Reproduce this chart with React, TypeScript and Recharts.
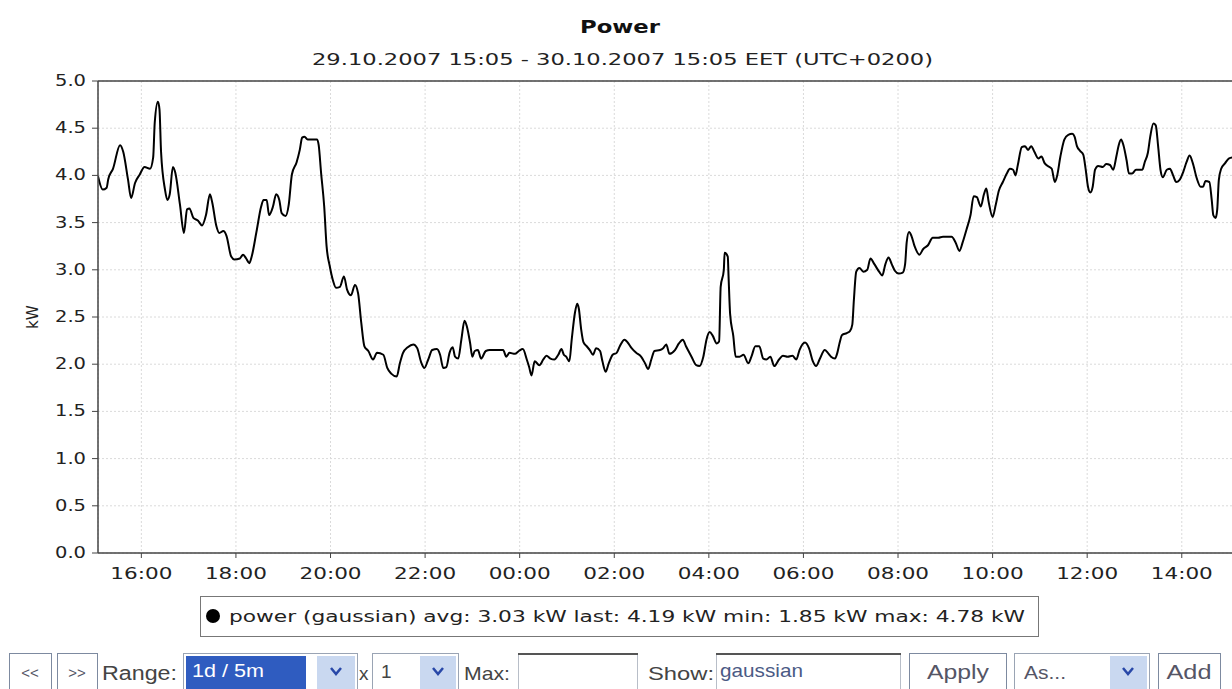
import React from 'react';
import { LineChart, Line, XAxis, YAxis, CartesianGrid, ReferenceLine } from 'recharts';

// minutes after 29.10.2007 15:05
const sampleMinutes = [
  0, 6, 11, 13, 19, 28, 32, 38, 42, 47, 53, 59, 66, 70, 72, 76, 78, 80, 85, 88, 91, 95, 98,
  104, 109, 113, 116, 121, 127, 132, 137, 142, 145, 150, 154, 159, 163, 169, 173, 180, 184,
  188, 192, 195, 201, 207, 210, 214, 217, 222, 226, 230, 233, 238, 242, 246, 252, 256, 259,
  262, 266, 278, 280, 283, 287, 290, 294, 298, 302, 307, 312, 316, 321, 326, 330, 334, 338,
  343, 349, 354, 362, 367, 372, 379, 383, 387, 393, 400, 405, 410, 414, 419, 424, 430, 434,
  438, 442, 446, 450, 453, 457, 461, 465, 468, 472, 475, 478, 482, 486, 492, 497, 514, 518,
  522, 529, 534, 539, 544, 547, 550, 554, 560, 565, 569, 574, 579, 584, 588, 591, 594, 598,
  601, 605, 608, 610, 613, 616, 620, 624, 628, 632, 637, 640, 644, 648, 653, 658, 662, 668,
  672, 677, 683, 689, 694, 698, 702, 706, 713, 717, 721, 725, 732, 737, 742, 746, 753, 759,
  763, 768, 772, 776, 780, 785, 788, 790, 794, 795, 799, 800, 802, 806, 809, 814, 819, 825,
  829, 834, 839, 844, 848, 853, 858, 864, 869, 875, 881, 886, 890, 897, 902, 907, 911, 916,
  922, 926, 930, 935, 938, 941, 944, 950, 954, 957, 959, 962, 966, 971, 976, 980, 985, 991,
  995, 999, 1003, 1007, 1011, 1016, 1021, 1024, 1026, 1029, 1032, 1036, 1042, 1047, 1053,
  1059, 1066, 1072, 1080, 1083, 1088, 1093, 1097, 1102, 1107, 1111, 1115, 1120, 1124, 1127,
  1130, 1135, 1139, 1143, 1148, 1153, 1157, 1161, 1164, 1167, 1172, 1176, 1180, 1184, 1188,
  1193, 1197, 1201, 1205, 1210, 1214, 1217, 1221, 1226, 1231, 1236, 1239, 1242, 1246, 1250,
  1253, 1256, 1259, 1262, 1265, 1269, 1275, 1279, 1284, 1288, 1292, 1295, 1298, 1301, 1305,
  1308, 1312, 1317, 1322, 1325, 1328, 1332, 1335, 1339, 1342, 1345, 1348, 1351, 1356, 1360,
  1364, 1368, 1372, 1377, 1381, 1385, 1389, 1394, 1399, 1402, 1405, 1410, 1413, 1415, 1418,
  1420, 1422, 1425, 1430, 1435, 1440,
];

const powerKw = [
  3.99, 3.85, 3.87, 3.96, 4.07, 4.32, 4.25, 3.96, 3.76, 3.92, 4.01, 4.09, 4.07, 4.19, 4.56, 4.78, 4.70, 4.25, 3.85, 3.74, 3.80, 4.09, 4.03,
  3.69, 3.39, 3.64, 3.65, 3.55, 3.52, 3.47, 3.58, 3.80, 3.71, 3.47, 3.39, 3.41, 3.36, 3.14, 3.11, 3.12, 3.16,
  3.12, 3.07, 3.14, 3.40, 3.67, 3.74, 3.74, 3.58, 3.67, 3.80, 3.74, 3.60, 3.57, 3.69, 4.01, 4.14, 4.27, 4.40,
  4.41, 4.38, 4.38, 4.32, 4.03, 3.67, 3.25, 3.04, 2.89, 2.81, 2.82, 2.93, 2.79, 2.73, 2.84, 2.75, 2.44, 2.19,
  2.14, 2.05, 2.12, 2.10, 1.96, 1.90, 1.87, 2.01, 2.12, 2.18, 2.21, 2.17, 2.02, 1.96, 2.05, 2.15, 2.16, 2.10,
  1.96, 1.97, 2.12, 2.18, 2.08, 2.06, 2.26, 2.46, 2.40, 2.23, 2.08, 2.14, 2.15, 2.06, 2.14, 2.15, 2.15, 2.08,
  2.12, 2.11, 2.14, 2.16, 2.05, 1.97, 1.88, 2.03, 1.99, 2.05, 2.09, 2.06, 2.05, 2.10, 2.16, 2.10, 2.08, 2.03,
  2.26, 2.54, 2.64, 2.59, 2.37, 2.23, 2.19, 2.15, 2.10, 2.17, 2.14, 2.03, 1.92, 2.01, 2.10, 2.12, 2.19, 2.26,
  2.23, 2.17, 2.12, 2.08, 2.01, 1.95, 2.05, 2.14, 2.15, 2.17, 2.21, 2.11, 2.15, 2.22, 2.26, 2.19, 2.08, 1.99,
  1.98, 2.08, 2.26, 2.34, 2.30, 2.22, 2.24, 2.82, 3.00, 3.18, 3.14, 2.93, 2.53, 2.30, 2.08, 2.08, 2.10, 2.01,
  2.08, 2.19, 2.19, 2.06, 2.05, 2.08, 1.98, 2.05, 2.09, 2.08, 2.09, 2.05, 2.15, 2.23, 2.17, 2.03, 1.98, 2.06,
  2.15, 2.12, 2.08, 2.06, 2.12, 2.23, 2.31, 2.33, 2.35, 2.42, 2.68, 2.98, 3.02, 2.98, 3.00, 3.12, 3.06, 2.98,
  2.94, 3.06, 3.13, 3.06, 2.99, 2.96, 2.97, 3.06, 3.29, 3.40, 3.36, 3.25, 3.16, 3.22, 3.26,
  3.34, 3.34, 3.35, 3.35, 3.35, 3.29, 3.20, 3.29, 3.43, 3.58, 3.78, 3.77, 3.67, 3.80, 3.86,
  3.72, 3.56, 3.69, 3.84, 3.93, 4.02, 4.07, 4.06, 4.00, 4.11, 4.30, 4.31, 4.27, 4.31, 4.25,
  4.18, 4.20, 4.13, 4.10, 4.07, 3.93, 4.00, 4.20, 4.38, 4.43, 4.44, 4.41, 4.31, 4.26, 4.22,
  4.07, 3.88, 3.82, 3.88, 4.06, 4.10, 4.09, 4.12, 4.11, 4.06, 4.20, 4.32, 4.38, 4.32, 4.16,
  4.02, 4.02, 4.06, 4.06, 4.06, 4.14, 4.24, 4.41, 4.55, 4.53, 4.31, 4.06, 3.98, 4.06, 4.07,
  4.00, 3.93, 3.95, 4.04, 4.14, 4.21, 4.13, 3.97, 3.88, 3.88, 3.94, 3.93, 3.74, 3.58, 3.55,
  3.64, 3.95, 4.07, 4.13, 4.18, 4.19,
];

const xTickMinutes = [55, 175, 295, 415, 535, 655, 775, 895, 1015, 1135, 1255, 1375];
const xTickLabels = ['16:00', '18:00', '20:00', '22:00', '00:00', '02:00', '04:00', '06:00', '08:00', '10:00', '12:00', '14:00'];
const yTickValues = [0, 0.5, 1, 1.5, 2, 2.5, 3, 3.5, 4, 4.5, 5];
const yTickLabels = ['0.0', '0.5', '1.0', '1.5', '2.0', '2.5', '3.0', '3.5', '4.0', '4.5', '5.0'];

const titleText = 'Power';
const subtitleText = '29.10.2007 15:05 - 30.10.2007 15:05 EET (UTC+0200)';
const yAxisTitle = 'kW';
const legendText = 'power (gaussian) avg: 3.03 kW last: 4.19 kW min: 1.85 kW max: 4.78 kW';

const data = sampleMinutes.map((m, i) => ({ m, kw: powerKw[i] }));

const FONT = '"DejaVu Sans", Verdana, sans-serif';
const UI_FONT = '"Liberation Sans", Arial, sans-serif';

function XTick(props: any) {
  const { x, y, payload } = props;
  const i = xTickMinutes.indexOf(payload.value);
  return (
    <text x={x} y={y + 19} textAnchor="middle" fontFamily={FONT} fontSize={16} fill="#222"
      textLength={62} lengthAdjust="spacingAndGlyphs">
      {xTickLabels[i]}
    </text>
  );
}

function YTick(props: any) {
  const { x, y, payload } = props;
  const i = yTickValues.indexOf(payload.value);
  return (
    <text x={x - 4} y={y + 5} textAnchor="end" fontFamily={FONT} fontSize={15} fill="#222"
      textLength={31} lengthAdjust="spacingAndGlyphs">
      {yTickLabels[i]}
    </text>
  );
}

function Chevron({ x, y }: { x: number; y: number }) {
  return <polyline points={`${x - 5},${y - 3} ${x},${y + 3} ${x + 5},${y - 3}`} fill="none" stroke="#2848a8" strokeWidth={2.5} />;
}

export default function App() {
  return (
    <div style={{ position: 'absolute', left: 0, top: 0, width: 1232, height: 689, overflow: 'hidden', background: '#fff' }}>
      <div style={{ position: 'absolute', left: 0, top: 0 }}>
        <LineChart width={1240} height={689} data={data} margin={{ top: 81, right: 7, bottom: 106, left: 38 }}>
          <CartesianGrid stroke="#dadada" strokeDasharray="2 2" />
          <XAxis dataKey="m" type="number" domain={[0, 1440]} ticks={xTickMinutes} height={30}
            axisLine={{ stroke: '#444', strokeWidth: 1.5 }} tickLine={{ stroke: '#444' }} tickSize={5}
            tick={XTick} interval={0} allowDataOverflow />
          <YAxis type="number" domain={[0, 5]} ticks={yTickValues} width={60}
            axisLine={{ stroke: '#444', strokeWidth: 1.5 }} tickLine={{ stroke: '#444' }} tickSize={6}
            tick={YTick} interval={0} />
          <ReferenceLine y={5} stroke="#444" strokeWidth={1.5} />
          <Line type="monotone" dataKey="kw" stroke="#000" strokeWidth={2} dot={false} isAnimationActive={false} />
        </LineChart>
      </div>
      <svg width={1232} height={689} style={{ position: 'absolute', left: 0, top: 0, pointerEvents: 'none' }}>
        <text x={620} y={33} textAnchor="middle" fontFamily={FONT} fontWeight="bold" fontSize={17} fill="#111"
          textLength={80} lengthAdjust="spacingAndGlyphs">{titleText}</text>
        <text x={312} y={65} fontFamily={FONT} fontSize={16} fill="#222"
          textLength={621} lengthAdjust="spacingAndGlyphs">{subtitleText}</text>
        <text transform="translate(38,317) rotate(-90)" textAnchor="middle" fontFamily={FONT} fontSize={15} fill="#222"
          textLength={24} lengthAdjust="spacingAndGlyphs">{yAxisTitle}</text>

        {/* legend */}
        <rect x={200.5} y={596.5} width={838} height={40} fill="#fff" stroke="#777" strokeWidth={1} />
        <circle cx={213} cy={616} r={7} fill="#000" />
        <text x={229} y={622} fontFamily={FONT} fontSize={16} fill="#222"
          textLength={796} lengthAdjust="spacingAndGlyphs">{legendText}</text>

        {/* controls */}
        <g fontFamily={UI_FONT}>
          <rect x={9.5} y={653.5} width={42} height={44} fill="#fff" stroke="#7d8aa0" />
          <text x={30} y={678} textAnchor="middle" fontSize={15} fill="#556">&lt;&lt;</text>
          <rect x={57.5} y={653.5} width={40} height={44} fill="#fff" stroke="#7d8aa0" />
          <text x={77} y={678} textAnchor="middle" fontSize={15} fill="#556">&gt;&gt;</text>
          <text x={102} y={680} fontSize={20} fill="#444" textLength={75} lengthAdjust="spacingAndGlyphs">Range:</text>

          <rect x={183.5} y={653.5} width={174} height={44} fill="#fff" stroke="#9aa4b4" />
          <rect x={186} y={656} width={120} height={40} fill="#2f5cc0" />
          <text x={192} y={677} fontSize={19} fill="#fff" textLength={72} lengthAdjust="spacingAndGlyphs">1d / 5m</text>
          <rect x={317} y={656} width={38} height={40} fill="#c9d8f0" />
          <Chevron x={336} y={671} />

          <text x={359} y={680} fontSize={19} fill="#444">x</text>
          <rect x={372.5} y={653.5} width={86} height={44} fill="#fff" stroke="#9aa4b4" />
          <text x={381} y={678} fontSize={19} fill="#444">1</text>
          <rect x={420} y={656} width={36} height={40} fill="#c9d8f0" />
          <Chevron x={438} y={671} />

          <text x={464} y={680} fontSize={19} fill="#444" textLength={46} lengthAdjust="spacingAndGlyphs">Max:</text>
          <rect x={518.5} y={653.5} width={119} height={44} fill="#fff" stroke="#b8bec8" />
          <line x1={518} y1={654} x2={638} y2={654} stroke="#555" strokeWidth={2} />

          <text x={648} y={680} fontSize={19} fill="#444" textLength={66} lengthAdjust="spacingAndGlyphs">Show:</text>
          <rect x={716.5} y={653.5} width={184} height={44} fill="#fff" stroke="#b8bec8" />
          <line x1={716} y1={654} x2={901} y2={654} stroke="#555" strokeWidth={2} />
          <text x={720} y={677} fontSize={19} fill="#4b5a85" textLength={83} lengthAdjust="spacingAndGlyphs">gaussian</text>

          <rect x={909.5} y={653.5} width={97} height={44} fill="#fff" stroke="#7d8aa0" />
          <text x={958} y={679} textAnchor="middle" fontSize={20} fill="#556" textLength={62} lengthAdjust="spacingAndGlyphs">Apply</text>

          <rect x={1014.5} y={653.5} width={135} height={44} fill="#fff" stroke="#9aa4b4" />
          <text x={1024} y={679} fontSize={19} fill="#556" textLength={42} lengthAdjust="spacingAndGlyphs">As...</text>
          <rect x={1110} y={656} width={37} height={40} fill="#c9d8f0" />
          <Chevron x={1128} y={671} />

          <rect x={1158.5} y={653.5} width={62} height={44} fill="#fff" stroke="#7d8aa0" />
          <text x={1189} y={679} textAnchor="middle" fontSize={20} fill="#556" textLength={45} lengthAdjust="spacingAndGlyphs">Add</text>
        </g>
      </svg>
    </div>
  );
}
